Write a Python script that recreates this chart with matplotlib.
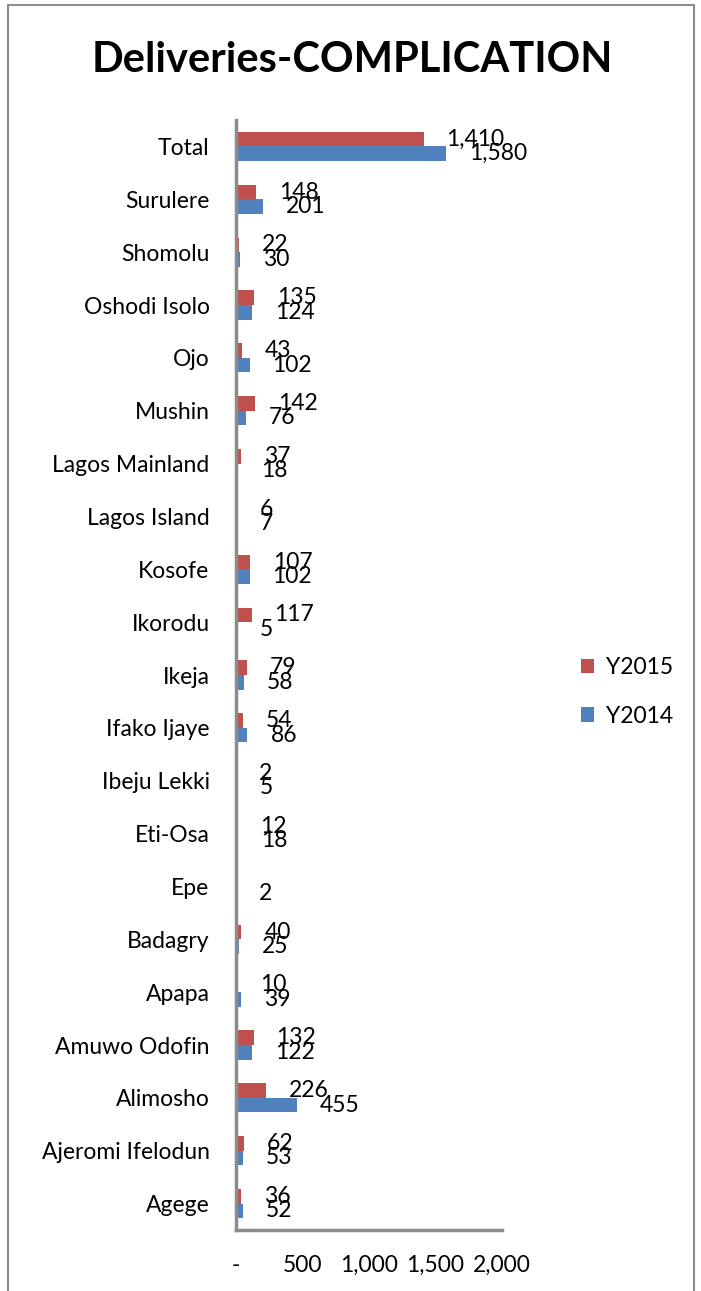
import matplotlib
matplotlib.use("Agg")
import matplotlib.pyplot as plt
from matplotlib.patches import Rectangle
import numpy as np

plt.rcParams['font.family'] = ['Lato', 'DejaVu Sans']

# District names, bottom to top
districts = ["Agege", "Ajeromi Ifelodun", "Alimosho", "Amuwo Odofin", "Apapa",
             "Badagry", "Epe", "Eti-Osa", "Ibeju Lekki", "Ifako Ijaye", "Ikeja",
             "Ikorodu", "Kosofe", "Lagos Island", "Lagos Mainland", "Mushin",
             "Ojo", "Oshodi Isolo", "Shomolu", "Surulere", "Total"]
y2015 = [36, 62, 226, 132, 10, 40, None, 12, 2, 54, 79, 117, 107, 6, 37, 142,
         43, 135, 22, 148, 1410]
y2014 = [52, 53, 455, 122, 39, 25, 2, 18, 5, 86, 58, 5, 102, 7, 18, 76, 102,
         124, 30, 201, 1580]
x_ticks = [0, 500, 1000, 1500, 2000]
x_tick_labels = ["-", "500", "1,000", "1,500", "2,000"]

RED = "#C0504D"
BLUE = "#4F81BD"
FS = 16.5

fig = plt.figure(figsize=(7.01, 12.91), dpi=100)
ax = fig.add_axes([236 / 701, 61 / 1291, 266 / 701, 1110 / 1291])

pos = np.arange(len(districts))
h = 0.275
v15 = np.array([np.nan if v is None else v for v in y2015], dtype=float)
v14 = np.array(y2014, dtype=float)

ax.barh(pos + h / 2, np.nan_to_num(v15), height=h, color=RED, label="Y2015")
ax.barh(pos - h / 2, v14, height=h, color=BLUE, label="Y2014")

scale = 2000 / 266.0  # data units per pixel
off = 23 * scale
for i in range(len(districts)):
    if not np.isnan(v15[i]):
        ax.text(v15[i] + off, pos[i] + h / 2, f"{int(v15[i]):,}", va="center",
                ha="left", fontsize=FS, color="black")
    ax.text(v14[i] + off, pos[i] - h / 2, f"{int(v14[i]):,}", va="center",
            ha="left", fontsize=FS, color="black")

ax.set_xlim(0, 2000)
ax.set_ylim(-0.5, len(districts) - 0.5)
ax.set_yticks(pos)
ax.set_yticklabels(districts, fontsize=FS)
ax.set_xticks(x_ticks)
ax.set_xticklabels(x_tick_labels, fontsize=FS)
ax.tick_params(axis="both", length=0)
ax.tick_params(axis="x", pad=18)
ax.tick_params(axis="y", pad=19)

for s in ["top", "right"]:
    ax.spines[s].set_visible(False)
for s in ["left", "bottom"]:
    ax.spines[s].set_color("#8C8C8C")
    ax.spines[s].set_linewidth(2.5)

fig.text(352 / 701, 1 - 60 / 1291, "Deliveries-COMPLICATION", ha="center",
         va="center", fontsize=30, fontweight="bold")

handles, labels = ax.get_legend_handles_labels()
fig.legend(handles, labels, loc="center left",
           bbox_to_anchor=(560 / 701, 1 - 692 / 1291), frameon=False,
           fontsize=FS, handlelength=0.6, handleheight=0.6,
           labelspacing=1.2, handletextpad=0.5)

fig.add_artist(Rectangle((8 / 701, -0.01), 686 / 701, 1 - 5 / 1291 + 0.01,
                         transform=fig.transFigure, fill=False,
                         edgecolor="#8C8C8C", linewidth=1.5))

fig.savefig("out.png", dpi=100)
